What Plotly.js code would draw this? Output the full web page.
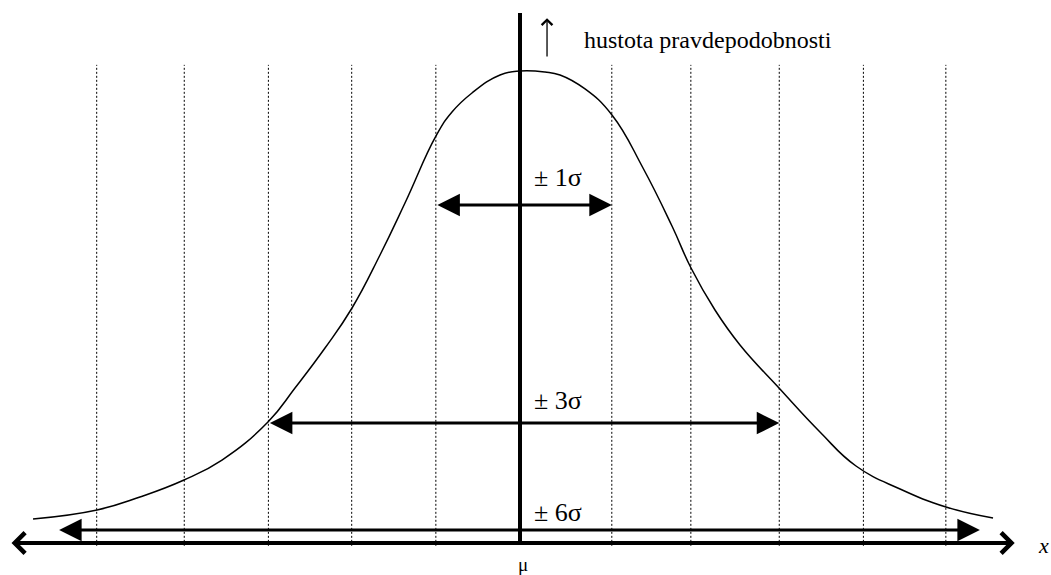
<!DOCTYPE html>
<html>
<head>
<meta charset="utf-8">
<script src="https://cdn.plot.ly/plotly-3.0.1.min.js"></script>
<style>
  html, body { margin: 0; padding: 0; background: #ffffff; overflow: hidden; }
  #chart { width: 1051px; height: 575px; }
</style>
</head>
<body>
<div id="chart"></div>
<script>
// Bell curve of the probability density; x is measured in sigma from the mean.
const densityX = [-5.729, -4.976, -4.471, -3.953, -3.506, -2.965, -2.647, -2.294, -1.976, -1.647,
                  -1.353, -0.988, -0.800, -0.565, -0.235, 0.000, 0.294, 0.471, 0.765, 1.082,
                  1.447, 1.788, 2.012, 2.294, 2.588, 3.047, 3.529, 3.953, 4.471, 5.012, 5.565];
const densityY = [0.0508, 0.0699, 0.0975, 0.1335, 0.1758, 0.2564, 0.3284, 0.4131, 0.4979, 0.6102,
                  0.7203, 0.8623, 0.9131, 0.9534, 0.9915, 1.0000, 0.9979, 0.9915, 0.9619, 0.9068,
                  0.7945, 0.6716, 0.5826, 0.4936, 0.4195, 0.3284, 0.2352, 0.1631, 0.1144, 0.0763, 0.0530];

// Dotted guide lines, one per sigma step on either side of the mean.
const sigmaGrid = [-4.98, -3.95, -2.96, -1.98, -0.99, 1.08, 2.01, 3.05, 4.04, 5.01];

// Double-headed spans: label, left end, right end and the height they sit at.
const spanLabels = ['± 1σ', '± 3σ', '± 6σ'];
const spanLeft   = [-0.99, -2.96, -5.44];
const spanRight  = [1.08, 3.05, 5.41];
const spanLevel  = [0.716, 0.254, 0.0275];

// Axis texts.
const xAxisLabel = 'x';
const yAxisLabel = 'hustota pravdepodobnosti';
const meanLabel  = 'μ';

// Axis extents in the same units.
const xAxisStart = -6.0, xAxisEnd = 5.82;
const yAxisTop = 1.123;
const gridTop = 1.013, gridBottom = -0.006;

const serif = '"Liberation Serif", "Times New Roman", Times, serif';
const ink = '#000000';

const traces = [{
  type: 'scatter',
  mode: 'lines',
  x: densityX,
  y: densityY,
  line: { color: ink, width: 1.5, shape: 'spline', smoothing: 1.3 },
  hoverinfo: 'skip'
}];

const shapes = [];
sigmaGrid.forEach(function (g) {
  shapes.push({
    type: 'line', xref: 'x', yref: 'y', layer: 'below',
    x0: g, x1: g, y0: gridBottom, y1: gridTop,
    line: { color: '#000000', width: 1, dash: '2px,2px' }
  });
});
// vertical (density) axis
shapes.push({
  type: 'line', xref: 'x', yref: 'y',
  x0: 0, x1: 0, y0: 0, y1: yAxisTop,
  line: { color: ink, width: 4 }
});

const annotations = [];
// horizontal axis with open arrowheads on both ends
annotations.push({
  x: xAxisEnd, y: 0, ax: xAxisStart, ay: 0,
  xref: 'x', yref: 'y', axref: 'x', ayref: 'y',
  text: '', showarrow: true,
  arrowside: 'end+start',
  arrowhead: 4, startarrowhead: 4,
  arrowsize: 1, startarrowsize: 1,
  arrowwidth: 4, arrowcolor: ink
});

// spans with filled heads
const labelLift = [28, 23, 18];
spanLabels.forEach(function (lab, i) {
  annotations.push({
    x: spanRight[i], y: spanLevel[i], ax: spanLeft[i], ay: spanLevel[i],
    xref: 'x', yref: 'y', axref: 'x', ayref: 'y',
    text: '', showarrow: true,
    arrowside: 'end+start',
    arrowhead: 2, startarrowhead: 2,
    arrowsize: 1.5, startarrowsize: 1.5,
    arrowwidth: 3, arrowcolor: ink
  });
  annotations.push({
    x: 0.14, y: spanLevel[i], xref: 'x', yref: 'y',
    xanchor: 'left', yanchor: 'middle', yshift: labelLift[i],
    text: lab, showarrow: false,
    font: { family: serif, size: 26, color: ink }
  });
});

// small upward arrow beside the density label
annotations.push({
  x: 0.318, y: 1.112, ax: 0.318, ay: 1.0275,
  xref: 'x', yref: 'y', axref: 'x', ayref: 'y',
  text: '', showarrow: true,
  arrowhead: 4, arrowsize: 1.6, arrowwidth: 1.3, arrowcolor: ink
});
annotations.push({
  x: 0.73, y: 1.066, xref: 'x', yref: 'y',
  xanchor: 'left', yanchor: 'middle',
  text: yAxisLabel, showarrow: false,
  font: { family: serif, size: 24, color: ink }
});
annotations.push({
  x: 0.03, y: -0.0466, xref: 'x', yref: 'y',
  xanchor: 'center', yanchor: 'middle',
  text: meanLabel, showarrow: false,
  font: { family: serif, size: 19, color: ink }
});
annotations.push({
  x: 6.07, y: -0.006, xref: 'x', yref: 'y',
  xanchor: 'left', yanchor: 'middle',
  text: '<i>' + xAxisLabel + '</i>', showarrow: false,
  font: { family: serif, size: 22, color: ink }
});

const layout = {
  width: 1051, height: 575,
  margin: { l: 0, r: 0, t: 0, b: 0, pad: 0 },
  paper_bgcolor: '#ffffff', plot_bgcolor: '#ffffff',
  showlegend: false,
  xaxis: { range: [-6.1176, 6.247], visible: false, fixedrange: true },
  yaxis: { range: [-0.0678, 1.1504], visible: false, fixedrange: true },
  shapes: shapes,
  annotations: annotations
};

Plotly.newPlot('chart', traces, layout, { staticPlot: true, displayModeBar: false });
</script>
</body>
</html>
